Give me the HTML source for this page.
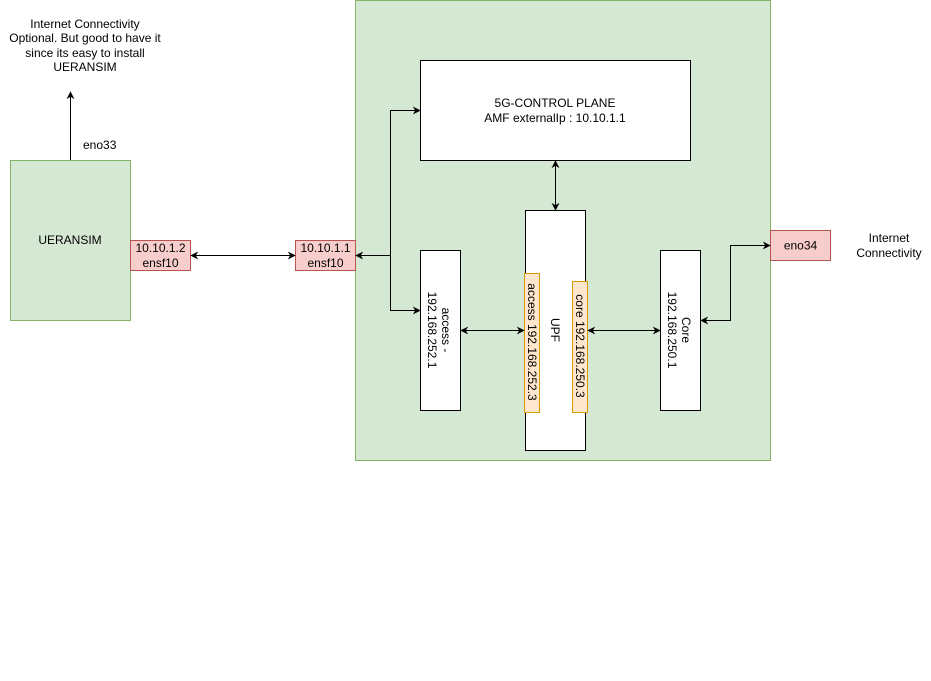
<!DOCTYPE html>
<html><head><meta charset="utf-8"><style>
html,body{margin:0;padding:0;background:#fff;}
svg{display:block;}
text{font-family:"Liberation Sans",Helvetica,Arial,sans-serif;font-size:12px;fill:#000;}
</style></head><body>
<svg width="931" height="681" viewBox="0 0 931 681" xmlns="http://www.w3.org/2000/svg">
<defs>
<marker id="ah" viewBox="0 0 10 10" refX="9" refY="5" markerWidth="8" markerHeight="8" orient="auto-start-reverse" markerUnits="userSpaceOnUse">
<path d="M0,0 L10,5 L0,10 L3,5 z" fill="#000"/>
</marker>
</defs>
<rect x="0" y="0" width="931" height="681" fill="#fff"/>

<!-- big green box -->
<rect x="355.5" y="0.5" width="415" height="460" fill="#d5e8d4" stroke="#82b366" stroke-width="1"/>

<!-- UERANSIM -->
<rect x="10.5" y="160.5" width="120" height="160" fill="#d5e8d4" stroke="#82b366" stroke-width="1"/>
<text x="70" y="244" text-anchor="middle">UERANSIM</text>

<!-- top text -->
<text x="85" y="28" text-anchor="middle">Internet Connectivity</text>
<text x="85" y="42" text-anchor="middle">Optional. But good to have it</text>
<text x="85" y="57" text-anchor="middle">since its easy to install</text>
<text x="85" y="71" text-anchor="middle">UERANSIM</text>

<!-- up arrow -->
<line x1="70.5" y1="160" x2="70.5" y2="92" stroke="#000" stroke-width="1" marker-end="url(#ah)"/>
<text x="83" y="149">eno33</text>

<!-- ensf10 left -->
<rect x="130.5" y="240.5" width="60" height="30" fill="#f8cecc" stroke="#b85450"/>
<text x="160.5" y="252" text-anchor="middle">10.10.1.2</text>
<text x="160.5" y="267" text-anchor="middle">ensf10</text>

<!-- ensf10 right -->
<rect x="295.5" y="240.5" width="60" height="30" fill="#f8cecc" stroke="#b85450"/>
<text x="325.5" y="252" text-anchor="middle">10.10.1.1</text>
<text x="325.5" y="267" text-anchor="middle">ensf10</text>

<line x1="191" y1="255.5" x2="295" y2="255.5" stroke="#000" marker-start="url(#ah)" marker-end="url(#ah)"/>

<!-- control plane -->
<rect x="420.5" y="60.5" width="270" height="100" fill="#fff" stroke="#000"/>
<text x="555" y="107" text-anchor="middle">5G-CONTROL PLANE</text>
<text x="555" y="122" text-anchor="middle">AMF externalIp : 10.10.1.1</text>

<!-- connectors from ensf10 right -->
<polyline points="356,255.5 390.5,255.5" fill="none" stroke="#000" marker-start="url(#ah)"/>
<polyline points="390.5,255.5 390.5,110.5 420,110.5" fill="none" stroke="#000" marker-end="url(#ah)"/>
<polyline points="390.5,255.5 390.5,310.5 420,310.5" fill="none" stroke="#000" marker-end="url(#ah)"/>

<!-- CP - UPF -->
<line x1="555.5" y1="161" x2="555.5" y2="210" stroke="#000" marker-start="url(#ah)" marker-end="url(#ah)"/>

<!-- access box -->
<rect x="420.5" y="250.5" width="40" height="160" fill="#fff" stroke="#000"/>
<text transform="rotate(90 446 330)" x="446" y="334" text-anchor="middle">access -</text>
<text transform="rotate(90 432 330)" x="432" y="334" text-anchor="middle">192.168.252.1</text>

<!-- UPF -->
<rect x="525.5" y="210.5" width="60" height="240" fill="#fff" stroke="#000"/>
<text transform="rotate(90 555 330)" x="555" y="334" text-anchor="middle">UPF</text>

<rect x="524.5" y="273.5" width="15" height="139" fill="#ffe6cc" stroke="#d79b00"/>
<text transform="rotate(90 532 342)" x="532" y="346" text-anchor="middle">access 192.168.252.3</text>
<rect x="572.5" y="281.5" width="15" height="131" fill="#ffe6cc" stroke="#d79b00"/>
<text transform="rotate(90 580 346)" x="580" y="350" text-anchor="middle">core 192.168.250.3</text>

<line x1="461" y1="330.5" x2="524" y2="330.5" stroke="#000" marker-start="url(#ah)" marker-end="url(#ah)"/>
<line x1="588" y1="330.5" x2="660" y2="330.5" stroke="#000" marker-start="url(#ah)" marker-end="url(#ah)"/>

<!-- Core box -->
<rect x="660.5" y="250.5" width="40" height="160" fill="#fff" stroke="#000"/>
<text transform="rotate(90 686 330)" x="686" y="334" text-anchor="middle">Core</text>
<text transform="rotate(90 672 330)" x="672" y="334" text-anchor="middle">192.168.250.1</text>

<!-- eno34 -->
<rect x="770.5" y="230.5" width="60" height="30" fill="#f8cecc" stroke="#b85450"/>
<text x="800.5" y="249.5" text-anchor="middle">eno34</text>
<polyline points="701,320.5 730.5,320.5 730.5,245.5 770,245.5" fill="none" stroke="#000" marker-start="url(#ah)" marker-end="url(#ah)"/>

<text x="889" y="242" text-anchor="middle">Internet</text>
<text x="889" y="257" text-anchor="middle">Connectivity</text>
</svg>
</body></html>
